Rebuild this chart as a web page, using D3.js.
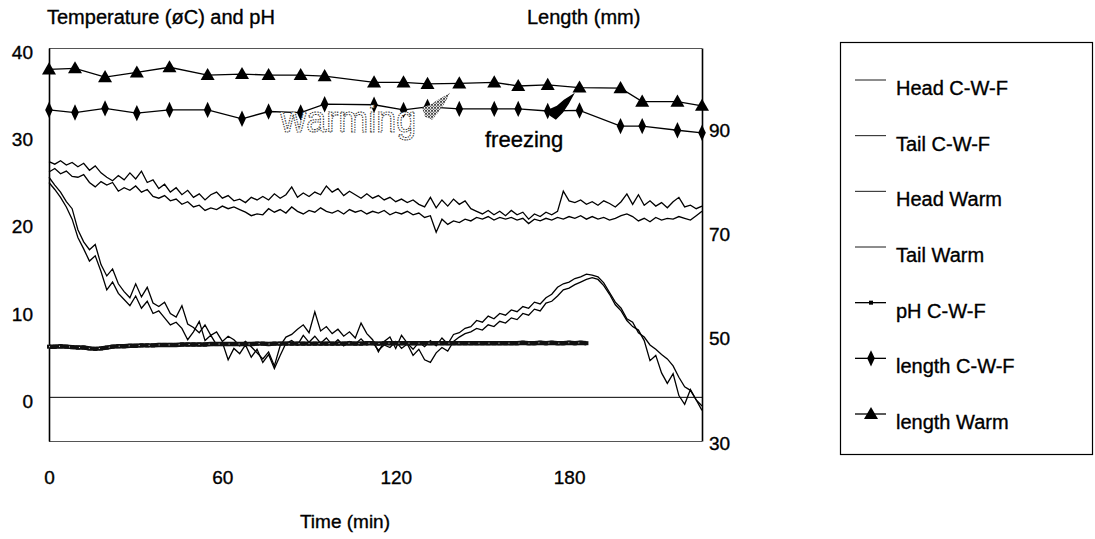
<!DOCTYPE html>
<html>
<head>
<meta charset="utf-8">
<script src="https://cdn.jsdelivr.net/npm/d3@7"></script>
<style>
  body { margin: 0; background: #fff; }
  svg { display: block; font-family: Arial, "Liberation Sans", Helvetica, sans-serif; }
  .lbl { fill: #000; stroke: #000; stroke-width: 0.35px; }
</style>
</head>
<body>
<svg id="chart" width="1095" height="539"></svg>
<script>
// Logger sampling schedule for the temperature probes (minutes)
const sampleMinutes = d3.range(0, 227, 2);

// Temperature (°C), warm treatment
const headWarm = [
  27.0, 26.7, 27.1, 26.6, 26.9, 26.4, 26.8, 26.0, 26.5, 25.7,
  25.2, 24.8, 25.4, 24.9, 25.7, 25.0, 25.9, 24.6, 24.9, 23.9,
  24.4, 23.5, 24.0, 23.2, 23.7, 22.9, 23.3, 22.6, 23.2, 23.5,
  22.8, 23.1, 22.5, 22.7, 22.3, 22.9, 22.6, 23.0, 22.6, 23.3,
  22.8, 23.2, 24.1, 22.9, 23.4, 23.0, 23.5, 23.2, 24.2, 23.5,
  23.9, 23.1, 23.6, 23.2, 22.8, 23.3, 22.8, 23.1, 22.6, 22.9,
  22.4, 22.7, 22.3, 22.6, 22.1, 21.8, 22.9, 21.7, 22.6, 21.9,
  22.7, 22.1, 22.5, 21.6, 21.3, 21.0, 21.4, 20.9, 21.3, 20.8,
  21.4, 20.9, 21.2, 20.4, 21.0, 20.7, 21.2, 20.9, 21.3, 23.6,
  22.5, 22.3, 22.6, 22.1, 22.4, 22.0, 22.5, 22.2, 21.8, 22.4,
  23.3, 22.1, 23.2, 22.0, 22.5, 21.9, 22.3, 21.7, 22.4, 22.9,
  21.8, 22.0, 21.6, 21.9
];
const tailWarm = [
  25.8, 26.2, 25.6, 25.9, 25.3, 25.2, 25.5, 24.6, 24.1, 24.7,
  24.3, 24.6, 23.6, 24.0, 23.7, 24.2, 23.5, 23.8, 23.0, 22.8,
  23.1, 22.5, 22.7, 22.1, 22.4, 21.8, 22.0, 21.4, 21.7, 21.5,
  21.9, 21.6, 21.8, 21.5, 21.2, 20.8, 21.0, 20.9, 21.6, 21.2,
  21.5, 21.1, 21.8, 21.3, 21.0, 21.4, 21.2, 21.7, 21.3, 21.1,
  21.4, 21.0, 21.5, 21.2, 21.4, 21.0, 21.3, 21.1, 21.4, 20.9,
  21.2, 21.0, 21.3, 20.9, 21.1, 20.6, 20.8, 18.9, 20.4, 19.8,
  20.2, 20.0, 20.4, 20.2, 20.6, 20.4, 20.7, 20.3, 20.6, 20.4,
  20.6, 20.3, 20.5, 19.9, 20.4, 20.2, 20.5, 20.3, 20.6, 20.4,
  20.7, 20.5, 20.8, 20.4, 20.7, 20.4, 20.6, 20.3, 20.5, 20.8,
  21.0, 20.7, 20.2, 20.5, 20.1, 20.6, 20.3, 20.5, 20.4, 20.7,
  20.5, 20.3, 20.8, 21.3
];

// Temperature (°C), cool-warm-freeze treatment
const headCWF = [
  25.2, 24.3, 23.5, 22.4, 21.6, 19.2, 17.8, 16.9, 17.5, 15.2,
  13.9, 14.7, 13.0, 12.1, 11.4, 13.0, 11.5, 12.6, 10.8, 10.4,
  10.9, 9.6, 9.2, 10.5, 8.4, 8.0, 7.4, 8.3, 7.1, 7.5,
  6.4, 7.0, 6.6, 5.9, 6.4, 5.8, 5.1, 4.4, 5.2, 3.6,
  5.9, 6.9, 7.2, 7.8, 8.3, 7.4, 9.8, 7.6, 8.1, 7.3,
  7.8, 7.0, 7.5, 6.8, 8.5, 7.3, 6.6, 5.2, 6.4, 6.9,
  5.6, 7.1, 6.2, 5.5, 6.3, 5.8, 6.5, 5.9, 6.8, 6.1,
  7.2, 7.4, 7.9, 8.1, 8.8, 8.6, 9.3, 9.0, 9.6, 9.4,
  10.0, 9.8, 10.4, 10.2, 10.9, 10.7, 11.4, 11.8, 12.6, 13.0,
  13.2, 13.6, 13.8, 14.1, 14.0, 13.8, 13.1, 12.0, 10.9, 10.2,
  9.0, 8.6, 7.4, 6.9, 6.0, 5.5, 4.9, 4.4, 3.6, 2.3,
  1.2, 0.8, -0.3, -1.0
];
const tailCWF = [
  24.6, 23.8, 22.9, 21.8, 20.4, 18.3, 17.0, 15.6, 16.2, 14.4,
  12.3, 13.2, 11.9, 11.2, 10.5, 11.6, 10.2, 11.0, 9.6, 9.9,
  9.1, 8.3, 8.6, 7.9, 6.6, 7.5, 8.7, 6.5, 7.1, 6.0,
  6.3, 4.3, 5.6, 5.0, 6.0, 4.6, 5.5, 4.0, 4.9, 3.3,
  4.8, 6.2, 6.5, 6.0, 7.1, 6.3, 7.0, 6.2, 6.8, 6.0,
  6.6, 5.9, 6.4, 6.1, 6.7, 6.0, 6.3, 5.4, 6.0, 5.7,
  6.4, 5.6, 6.1, 4.8, 5.5, 4.3, 4.0, 5.1, 5.7, 5.3,
  6.4, 6.9, 7.3, 7.5, 7.9, 7.7, 8.3, 8.1, 8.7, 8.5,
  9.1, 8.9, 9.6, 9.4, 10.1, 9.9, 10.8, 11.0, 11.6, 12.3,
  12.5, 12.9, 13.2, 13.5, 13.7, 13.5, 12.8, 11.8, 10.6, 9.9,
  8.8, 8.1, 7.7, 6.5, 4.2, 4.8, 2.8, 1.6, 2.7, 0.2,
  -0.8, 0.9, -0.3, -1.5
];

// pH, cool-warm-freeze treatment (logged until 186 min)
const phCWF = [
  5.8, 5.8, 5.85, 5.8, 5.75, 5.7, 5.7, 5.6, 5.55, 5.6,
  5.7, 5.8, 5.85, 5.85, 5.9, 5.9, 5.95, 5.95, 5.95, 6.0,
  6.0, 6.0, 6.0, 6.05, 6.05, 6.05, 6.05, 6.05, 6.1, 6.1,
  6.1, 6.1, 6.1, 6.1, 6.1, 6.1, 6.15, 6.15, 6.1, 6.15,
  6.15, 6.15, 6.15, 6.15, 6.15, 6.15, 6.15, 6.15, 6.15, 6.15,
  6.15, 6.15, 6.2, 6.15, 6.15, 6.2, 6.2, 6.15, 6.2, 6.2,
  6.2, 6.2, 6.2, 6.2, 6.2, 6.2, 6.2, 6.2, 6.2, 6.2,
  6.2, 6.2, 6.2, 6.2, 6.2, 6.2, 6.2, 6.2, 6.2, 6.2,
  6.2, 6.2, 6.25, 6.2, 6.2, 6.25, 6.2, 6.25, 6.2, 6.2,
  6.25, 6.2, 6.25, 6.2
];
const phMinutes = sampleMinutes.slice(0, phCWF.length);

// Body length (mm), measured at irregular times
const lengthMinutes = [0, 9, 19.4, 30.4, 41.7, 54.9, 66.8, 76, 87.1, 95.4, 112.5,
                       122.7, 131, 142, 154.1, 162.4, 172.6, 183.6, 197.8, 205.3, 217.5, 226];
const lengthCWF  = [93.6, 93.1, 93.9, 93.0, 93.6, 93.6, 91.9, 93.3, 93.1, 94.7, 94.6,
                    93.6, 94.2, 93.8, 93.8, 93.8, 93.4, 93.5, 90.5, 90.5, 89.7, 89.2];
const lengthWarm = [101.4, 101.6, 99.9, 100.8, 101.8, 100.3, 100.5, 100.3, 100.3, 100.1, 98.9,
                    98.9, 98.6, 98.7, 98.9, 98.2, 98.4, 97.9, 97.8, 95.2, 95.2, 94.4];

// Axis ticks
const timeTicks = [0, 60, 120, 180];
const tempTicks = [0, 10, 20, 30, 40];
const lengthTicks = [30, 50, 70, 90];

const legendNames = ["Head C-W-F", "Tail C-W-F", "Head Warm", "Tail Warm",
                     "pH C-W-F", "length C-W-F", "length Warm"];
const legendSymbols = ["none", "none", "none", "none", "square", "diamond", "triangle"];

const svg = d3.select("#chart");
const frame = { left: 49, right: 702, top: 48, bottom: 441 };

const x = d3.scaleLinear().domain([0, 226]).range([frame.left, frame.right]);
const yTemp = d3.scaleLinear().domain([-5, 40]).range([frame.bottom, frame.top]);
const yLen = d3.scaleLinear().domain([30, 105.5]).range([frame.bottom, frame.top]);

// Plot frame: thin grey top/bottom, solid axes at the sides
svg.append("line").attr("x1", frame.left).attr("x2", frame.right)
  .attr("y1", frame.top + 0.5).attr("y2", frame.top + 0.5)
  .attr("stroke", "#555").attr("stroke-width", 1);
svg.append("line").attr("x1", frame.left).attr("x2", frame.right)
  .attr("y1", frame.bottom + 0.5).attr("y2", frame.bottom + 0.5)
  .attr("stroke", "#555").attr("stroke-width", 1);

// zero line
svg.append("line").attr("x1", frame.left).attr("x2", frame.right)
  .attr("y1", yTemp(0)).attr("y2", yTemp(0))
  .attr("stroke", "#000").attr("stroke-width", 1);

// Axes
const axisFont = 19;
const gLeft = svg.append("g").attr("transform", `translate(${frame.left},0)`)
  .call(d3.axisLeft(yTemp).tickValues(tempTicks).tickSize(0).tickPadding(16));
gLeft.select(".domain").attr("stroke", "#000").attr("stroke-width", 1.6);
gLeft.selectAll("text").attr("class", "lbl").attr("font-size", axisFont)
  .attr("font-family", "Arial, 'Liberation Sans', sans-serif").attr("y", 4);

const gRight = svg.append("g").attr("transform", `translate(${frame.right},0)`)
  .call(d3.axisRight(yLen).tickValues(lengthTicks).tickSize(0).tickPadding(7));
gRight.select(".domain").attr("stroke", "#000").attr("stroke-width", 1.6);
gRight.selectAll("text").attr("class", "lbl").attr("font-size", axisFont)
  .attr("font-family", "Arial, 'Liberation Sans', sans-serif").attr("y", 2);

const gBottom = svg.append("g").attr("transform", `translate(0,${frame.bottom})`)
  .call(d3.axisBottom(x).tickValues(timeTicks).tickSize(0).tickPadding(30));
gBottom.select(".domain").remove();
gBottom.selectAll("text").attr("class", "lbl").attr("font-size", axisFont)
  .attr("font-family", "Arial, 'Liberation Sans', sans-serif");

// Axis titles
svg.append("text").attr("class", "lbl").attr("x", 47).attr("y", 24).attr("font-size", 20)
  .text("Temperature (øC) and pH");
svg.append("text").attr("class", "lbl").attr("x", 527).attr("y", 24).attr("font-size", 20)
  .text("Length (mm)");
svg.append("text").attr("class", "lbl").attr("x", 345).attr("y", 528).attr("font-size", 19)
  .attr("text-anchor", "middle").text("Time (min)");

// Temperature traces
const tempLine = d3.line().x((d, i) => x(sampleMinutes[i])).y(d => yTemp(d));
[headWarm, tailWarm, headCWF, tailCWF].forEach(series => {
  svg.append("path").datum(series).attr("d", tempLine)
    .attr("fill", "none").attr("stroke", "#000").attr("stroke-width", 1.3)
    .attr("stroke-linejoin", "miter");
});

// pH trace: heavy line with small square markers
const phLine = d3.line().x((d, i) => x(phMinutes[i])).y(d => yTemp(d));
svg.append("path").datum(phCWF).attr("d", phLine)
  .attr("fill", "none").attr("stroke", "#111").attr("stroke-width", 4.4);
svg.append("g").selectAll("rect").data(phCWF).join("rect")
  .attr("x", (d, i) => x(phMinutes[i]) - 2).attr("y", d => yTemp(d) - 2)
  .attr("width", 4).attr("height", 4).attr("fill", "#111");
svg.append("path").datum(phCWF).attr("d", phLine)
  .attr("fill", "none").attr("stroke", "#ddd").attr("stroke-width", 1)
  .attr("stroke-dasharray", "1 9");

// Length series with markers
const lenLine = d3.line().x((d, i) => x(lengthMinutes[i])).y(d => yLen(d));
const diamond = d3.symbol().type(d3.symbolDiamond).size(70);
const triangle = d3.symbol().type(d3.symbolTriangle).size(85);

svg.append("path").datum(lengthWarm).attr("d", lenLine)
  .attr("fill", "none").attr("stroke", "#000").attr("stroke-width", 1.3);
svg.append("g").selectAll("path").data(lengthWarm).join("path")
  .attr("d", triangle)
  .attr("transform", (d, i) => `translate(${x(lengthMinutes[i])},${yLen(d) + 1})`)
  .attr("fill", "#000");

svg.append("path").datum(lengthCWF).attr("d", lenLine)
  .attr("fill", "none").attr("stroke", "#000").attr("stroke-width", 1.3);
svg.append("g").selectAll("path").data(lengthCWF).join("path")
  .attr("d", diamond)
  .attr("transform", (d, i) => `translate(${x(lengthMinutes[i])},${yLen(d)}) scale(0.85,1.05)`)
  .attr("fill", "#000");

// Annotations
const defs = svg.append("defs");
const hatch = defs.append("pattern").attr("id", "hatch")
  .attr("patternUnits", "userSpaceOnUse").attr("width", 3).attr("height", 3);
hatch.append("rect").attr("width", 3).attr("height", 3).attr("fill", "#fff");
hatch.append("path").attr("d", "M0,3 L3,0 M0,0 L3,3").attr("stroke", "#333").attr("stroke-width", 0.9);

// "warming" label and hatched pointer near the length curves
const warmAt = { t: 80, mm: 89.3 };
svg.append("text")
  .attr("x", x(warmAt.t)).attr("y", yLen(warmAt.mm))
  .attr("font-size", 36).attr("fill", "#fff").attr("stroke", "#333")
  .attr("stroke-width", 1.1).attr("stroke-dasharray", "1.4 1.1")
  .text("warming");
const warmTip = { t: 138.8, mm: 96.9 };
svg.append("path")
  .attr("transform", `translate(${x(warmTip.t)},${yLen(warmTip.mm)})`)
  .attr("d", "M0,0 L-5,10 L-12,20 L-18,27 L-25,24 L-28,15 L-20,12 L-12,7 Z")
  .attr("fill", "url(#hatch)");

// "freezing" label and solid pointer
const freezeAt = { t: 150.9, mm: 86.4 };
svg.append("text").attr("class", "lbl")
  .attr("x", x(freezeAt.t)).attr("y", yLen(freezeAt.mm))
  .attr("font-size", 22)
  .text("freezing");
const freezeTip = { t: 182, mm: 96.9 };
svg.append("path")
  .attr("transform", `translate(${x(freezeTip.t)},${yLen(freezeTip.mm)})`)
  .attr("d", "M0,0 L-6,11 L-12,20 L-19,27 L-25,23 L-27,17 L-18,13 L-11,7 Z")
  .attr("fill", "#000");

// Legend
const legend = svg.append("g");
legend.append("rect").attr("x", 840.5).attr("y", 42.5).attr("width", 252).attr("height", 412)
  .attr("fill", "none").attr("stroke", "#000").attr("stroke-width", 1.2);
const rowY = d3.scalePoint().domain(legendNames).range([88, 422]);
legendNames.forEach((name, i) => {
  const cy = rowY(name);
  const ly = cy - 8;
  legend.append("line").attr("x1", 855).attr("x2", 886).attr("y1", ly).attr("y2", ly)
    .attr("stroke", "#000").attr("stroke-width", i < 4 ? 0.9 : 1.3);
  const sym = legendSymbols[i];
  if (sym === "square") {
    legend.append("rect").attr("x", 869).attr("y", ly - 2).attr("width", 4).attr("height", 4).attr("fill", "#000");
  } else if (sym === "diamond") {
    legend.append("path").attr("d", diamond).attr("transform", `translate(871,${ly}) scale(0.85,1.05)`).attr("fill", "#000");
  } else if (sym === "triangle") {
    legend.append("path").attr("d", triangle).attr("transform", `translate(871,${ly + 1})`).attr("fill", "#000");
  }
  legend.append("text").attr("class", "lbl").attr("x", 896).attr("y", cy).attr("dy", "0.35em")
    .attr("font-size", 20).text(name);
});
</script>
</body>
</html>
